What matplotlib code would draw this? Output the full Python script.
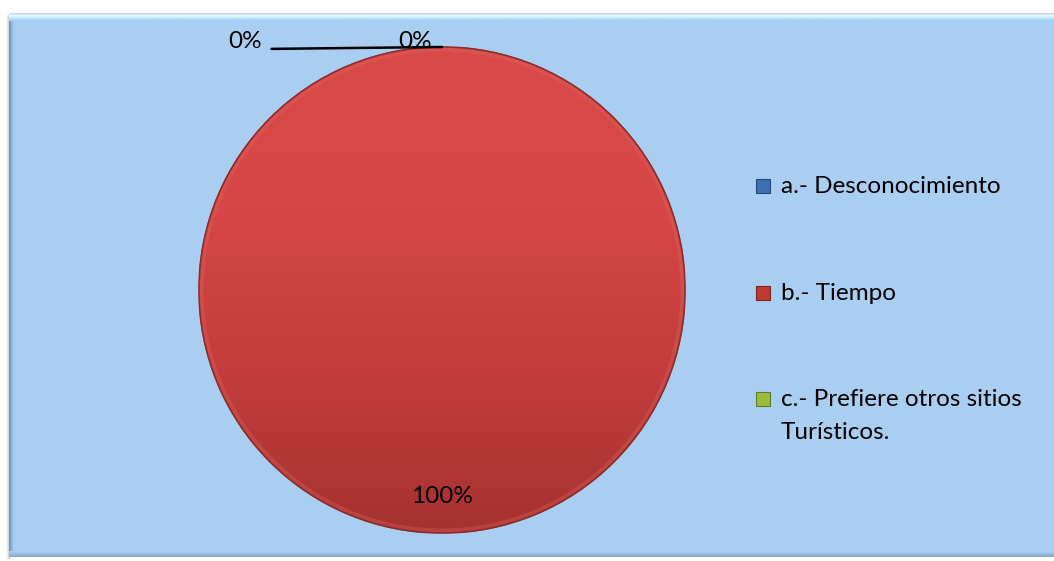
import numpy as np
import matplotlib.pyplot as plt
from matplotlib.patches import Rectangle
from matplotlib.colors import LinearSegmentedColormap

plt.rcParams['font.family'] = ['Lato', 'DejaVu Sans']

categories = ["a.- Desconocimiento", "b.- Tiempo", "c.- Prefiere otros sitios\nTurísticos."]
values = [0, 100, 0]
colors = ["#3f6fb0", "#c0392f", "#9bbb3f"]
edge_colors = ["#24497a", "#7e2420", "#637a24"]

FS = 17.5
W, H = 1054, 561
fig = plt.figure(figsize=(W / 100, H / 100), dpi=100)
fig.patch.set_facecolor("white")

# Background panel in pixel coordinates
bg = fig.add_axes([0, 0, 1, 1])
bg.set_xlim(0, W)
bg.set_ylim(H, 0)
bg.axis("off")
px0, py0, px1, py1 = 9, 13, W + 2, 557
# soft shadow on the left
for i, a in enumerate([0.06, 0.1, 0.16]):
    bg.add_patch(Rectangle((px0 - 3 + i, py0 + 2), 3, py1 - py0, color="#808080", alpha=a, lw=0))
bg.add_patch(Rectangle((px0, py0), px1 - px0, py1 - py0, color="#a9cef2", lw=0))
# bevel: light top edge, darker left and bottom edges
top_grad = np.linspace(0, 1, 8)[:, None]
top_cmap = LinearSegmentedColormap.from_list("top", ["#c8d8e8", "#e6fbff", "#bfe6fb", "#a9cef2"])
bg.imshow(top_grad, cmap=top_cmap, extent=(px0, px1, py0 + 8, py0), aspect="auto", zorder=1)
left_cmap = LinearSegmentedColormap.from_list("left", ["#6e96c0", "#93bbe4", "#a9cef2"])
bg.imshow(np.linspace(0, 1, 6)[None, :], cmap=left_cmap, extent=(px0, px0 + 6, py1, py0 + 8),
          aspect="auto", zorder=1)
bot_cmap = LinearSegmentedColormap.from_list("bot", ["#a9cef2", "#98bde3", "#86abd2"])
bg.imshow(np.linspace(0, 1, 6)[:, None], cmap=bot_cmap, extent=(px0, px1, py1, py1 - 6),
          aspect="auto", zorder=1)

# Pie
cx, cy, r = 442, 290, 243
ax = fig.add_axes([(cx - r) / W, (H - cy - r) / H, 2 * r / W, 2 * r / H])


def pct_label(p):
    return "" if p == 0 else f"{p:.0f}%"


wedges, texts, autotexts = ax.pie(values, colors=colors, startangle=90, counterclock=False,
                                  radius=1, autopct=pct_label, pctdistance=0.85,
                                  wedgeprops=dict(edgecolor="#8f2a28", linewidth=1.2),
                                  textprops=dict(fontsize=FS, color="black"))
ax.set_xlim(-1, 1)
ax.set_ylim(-1, 1)
ax.set_aspect("equal")
ax.axis("off")
for t in autotexts:
    t.set_zorder(5)

# Vertical shading on the filled slice
shade = LinearSegmentedColormap.from_list("shade", ["#a63231", "#c23d3b", "#d64745", "#da4a48"])
for w, v in zip(wedges, values):
    if v > 0:
        img = ax.imshow(np.linspace(0, 1, 256)[:, None], cmap=shade, origin="lower",
                        extent=(-1, 1, -1, 1), aspect="auto", zorder=2)
        img.set_clip_path(w)
        rim = plt.Circle((0, 0), 0.99, fill=False, lw=3, color="#e06a66", alpha=0.3, zorder=3)
        ax.add_patch(rim)
        rim.set_clip_path(w)
        edge = plt.Circle((0, 0), 1.0, fill=False, lw=1.2, color="#8a2a28", alpha=0.8, zorder=3)
        ax.add_patch(edge)

# Labels of the empty slices at the top
zero_pos = [(245, 41), (415, 41)]
for k, (w, v) in enumerate([(w, v) for w, v in zip(wedges, values) if v == 0]):
    ang = np.deg2rad(w.theta1)
    tx, ty = zero_pos[k]
    if k == 0:
        ax.annotate(f"{v}%", xy=(np.cos(ang), np.sin(ang)), xycoords="data",
                    xytext=(tx, H - ty), textcoords="figure pixels", ha="center", va="center",
                    fontsize=FS, zorder=6,
                    arrowprops=dict(arrowstyle="-", color="black", lw=1.8, relpos=(1.0, 0.12),
                                    shrinkA=5, shrinkB=0), annotation_clip=False)
    else:
        fig.text(tx / W, (H - ty) / H, f"{v}%", ha="center", va="center", fontsize=FS, zorder=6)

# Legend
leg_y = [186, 293, 399]
for lab, col, ec, y in zip(categories, colors, edge_colors, leg_y):
    bg.add_patch(Rectangle((756, y - 7), 14, 14, facecolor=col, edgecolor=ec, lw=0.8, zorder=4))
    lines = lab.split("\n")
    for j, line in enumerate(lines):
        bg.text(781, y + j * 33, line, fontsize=FS, ha="left", va="center", color="black", zorder=4)

fig.savefig("out.png", dpi=100)
